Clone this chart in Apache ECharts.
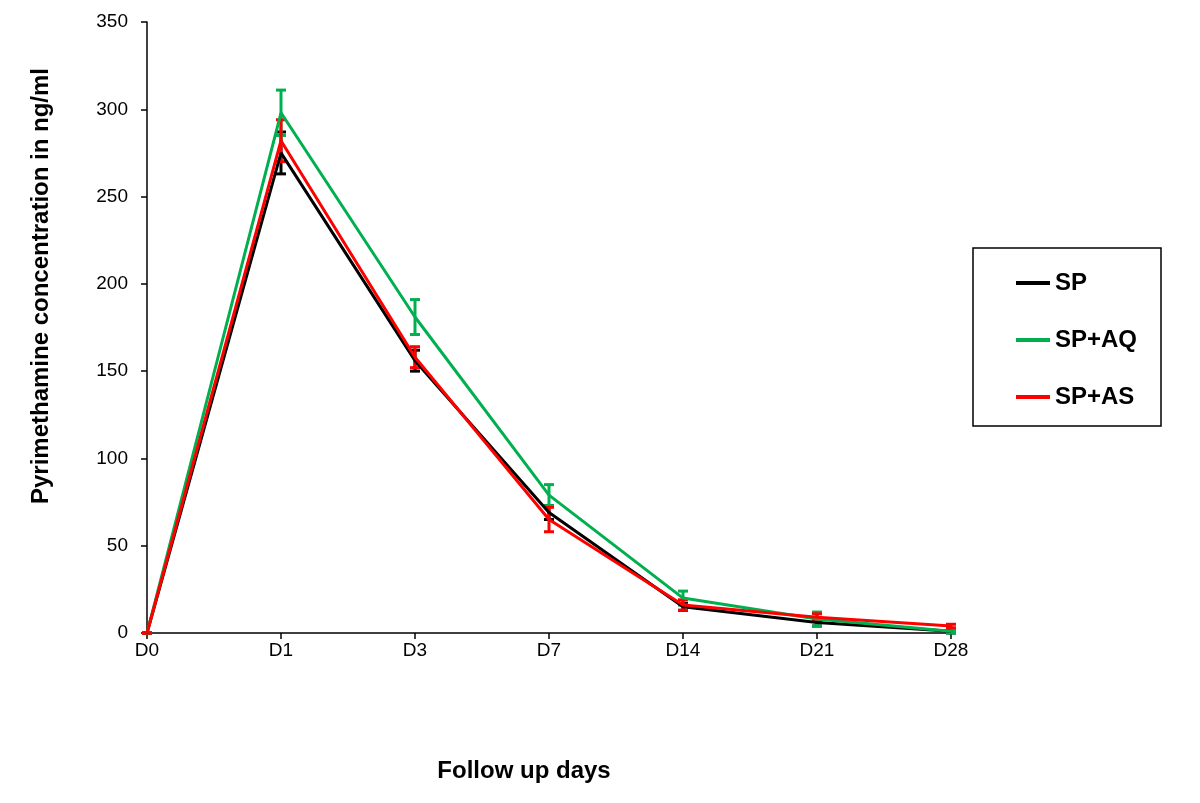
<!DOCTYPE html>
<html>
<head>
<meta charset="utf-8">
<script src="https://cdn.jsdelivr.net/npm/echarts@6/dist/echarts.min.js"></script>
<style>
  html, body { margin: 0; padding: 0; background: #fff; }
  #main { width: 1200px; height: 803px; }
</style>
</head>
<body>
<div id="main"></div>
<script>
var days = ['D0', 'D1', 'D3', 'D7', 'D14', 'D21', 'D28'];

var sp = [0, 275, 156, 69, 15, 6, 1];
var spErr = [0, 12, 6, 4, 2, 2, 1];

var spAq = [0, 298, 181, 79, 20, 8, 1];
var spAqErr = [0, 13, 10, 6, 4, 4, 1];

var spAs = [0, 282, 158, 65, 16, 9, 4];
var spAsErr = [0, 12, 6, 7, 3, 2, 1];

var colors = { sp: '#000000', aq: '#00b050', as: '#ff0000' };

var myChart = echarts.init(document.getElementById('main'));

// 误差线
function errorSeries(name, values, errs, color) {
    var data = values.map(function(v, i) {
        return [i, v - errs[i], v + errs[i]];
    });
    return {
        name: name,
        type: 'custom',
        data: data,
        z: 3,
        renderItem: function(params, api) {
            var lo = api.coord([api.value(0), api.value(1)]);
            var hi = api.coord([api.value(0), api.value(2)]);
            var w = 5;
            var style = { stroke: color, lineWidth: 3 };
            return {
                type: 'group',
                children: [
                    { type: 'line', shape: { x1: hi[0], y1: hi[1], x2: lo[0], y2: lo[1] }, style: style },
                    { type: 'line', shape: { x1: hi[0] - w, y1: hi[1], x2: hi[0] + w, y2: hi[1] }, style: style },
                    { type: 'line', shape: { x1: lo[0] - w, y1: lo[1], x2: lo[0] + w, y2: lo[1] }, style: style }
                ]
            };
        }
    };
}

function lineSeries(name, values, color) {
    return {
        name: name,
        type: 'line',
        data: values,
        symbol: 'none',
        z: 4,
        lineStyle: { color: color, width: 3 },
        itemStyle: { color: color }
    };
}

var font = 'Liberation Sans, Arial, sans-serif';

var option = {
    animation: false,
    backgroundColor: '#fff',
    grid: { left: 147, right: 249, top: 22, bottom: 170 },
    legend: {
        orient: 'vertical',
        left: 973,
        top: 248,
        padding: [22, 22, 16, 43],
        itemGap: 31,
        itemWidth: 34,
        itemHeight: 4,
        icon: 'rect',
        borderColor: '#000',
        borderWidth: 1.5,
        borderRadius: 0,
        data: ['SP', 'SP+AQ', 'SP+AS'],
        textStyle: { fontFamily: font, fontWeight: 'bold', fontSize: 24, lineHeight: 26, color: '#000', width: 84 }
    },
    xAxis: {
        type: 'category',
        boundaryGap: false,
        data: days,
        axisLine: { lineStyle: { color: '#000', width: 1.5 } },
        axisTick: { alignWithLabel: true, length: 6, lineStyle: { color: '#000', width: 1.5 } },
        axisLabel: { color: '#000', fontFamily: font, fontSize: 19, margin: 8 },
        splitLine: { show: false }
    },
    yAxis: {
        type: 'value',
        min: 0,
        max: 350,
        interval: 50,
        axisLine: { show: true, lineStyle: { color: '#000', width: 1.5 } },
        axisTick: { show: true, length: 6, lineStyle: { color: '#000', width: 1.5 } },
        axisLabel: { color: '#000', fontFamily: font, fontSize: 19, margin: 19 },
        splitLine: { show: false }
    },
    graphic: [
        {
            type: 'text',
            x: 41,
            y: 286,
            rotation: Math.PI / 2,
            style: {
                text: 'Pyrimethamine concentration in ng/ml',
                fontFamily: font,
                fontWeight: 'bold',
                fontSize: 24,
                fill: '#000',
                textAlign: 'center',
                textVerticalAlign: 'middle'
            }
        },
        {
            type: 'text',
            x: 524,
            y: 771,
            style: {
                text: 'Follow up days',
                fontFamily: font,
                fontWeight: 'bold',
                fontSize: 24,
                fill: '#000',
                textAlign: 'center',
                textVerticalAlign: 'middle'
            }
        }
    ],
    series: [
        lineSeries('SP', sp, colors.sp),
        lineSeries('SP+AQ', spAq, colors.aq),
        lineSeries('SP+AS', spAs, colors.as),
        errorSeries('SP', sp, spErr, colors.sp),
        errorSeries('SP+AQ', spAq, spAqErr, colors.aq),
        errorSeries('SP+AS', spAs, spAsErr, colors.as)
    ]
};

myChart.setOption(option);
</script>
</body>
</html>
